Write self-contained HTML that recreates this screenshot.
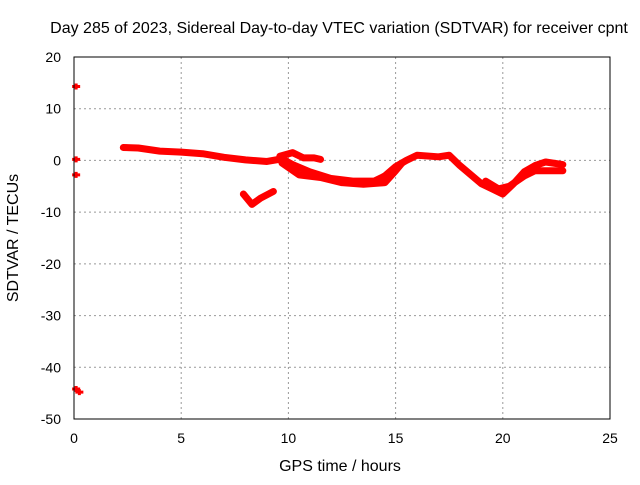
<!DOCTYPE html>
<html><head><meta charset="utf-8"><style>
body{margin:0;background:#fff}
svg text{font-family:"Liberation Sans",sans-serif;font-size:14px;fill:#000}
svg text.big{font-size:16px}
</style></head><body>
<svg width="640" height="480" id="c">
<text class="big" x="339" y="33" text-anchor="middle">Day 285 of 2023, Sidereal Day-to-day VTEC variation (SDTVAR) for receiver cpnt</text>
<text class="big" x="340" y="471" text-anchor="middle">GPS time / hours</text>
<text class="big" transform="translate(18,238) rotate(-90)" text-anchor="middle">SDTVAR / TECUs</text>
<g id="grid"></g><g id="ticks"></g><g id="data"></g>
<rect x="74" y="57" width="536" height="362" fill="none" stroke="#000"/>
</svg>
<script>
const xTicks=[0,5,10,15,20,25];
const yTicks=[20,10,0,-10,-20,-30,-40,-50];
const trackMain=[[2.3,2.5],[3,2.4],[4,1.8],[5,1.6],[6,1.3],[7,0.6],[8,0.1],[9,-0.2],[9.7,0.3],[10.2,-0.8],[11,-2.2],[12,-3.5],[13,-4],[14,-4],[14.5,-3],[15,-1.2],[15.5,0],[16,1],[17,0.7],[17.5,1],[18,-1],[19,-4.5],[19.5,-5.5],[20,-6.5],[20.5,-4.5],[21,-2.2],[21.5,-1],[22,-0.3],[22.8,-0.8]];
const trackUpper=[[9.6,0.8],[10.2,1.5],[10.7,0.5],[11.2,0.5],[11.5,0.2]];
const trackLower=[[9.7,-0.5],[10.5,-2.8],[11.5,-3.3],[12.5,-4.3],[13.5,-4.6],[14.5,-4.3],[15,-2],[15.3,-0.5]];
const trackLate=[[19.2,-4],[19.8,-5.5],[20.3,-5],[21,-3],[21.5,-2],[22.8,-2]];
const arc=[[7.9,-6.5],[8.3,-8.5],[8.7,-7.3],[9.3,-6]];
const isolated=[[0.1,14.3],[0.1,0.2],[0.1,-2.8],[0.1,-44.2],[0.25,-44.8]];
const X=v=>74+v*536/25, Y=v=>57+(20-v)*362/70;
const ns="http://www.w3.org/2000/svg";
function mk(t,a,p){const e=document.createElementNS(ns,t);for(const k in a)e.setAttribute(k,a[k]);document.getElementById(p).appendChild(e);return e;}
xTicks.forEach(v=>{
 if(v>0&&v<25){const g=mk('line',{x1:X(v),x2:X(v),y1:57,y2:419,stroke:'#999','stroke-dasharray':'2,3'},'grid');
 
 }
 const t=mk('text',{x:X(v),y:443,'text-anchor':'middle'},'ticks');t.textContent=v;
 
 
});
yTicks.forEach(v=>{
 if(v<20&&v>-50){const g=mk('line',{x1:74,x2:610,y1:Y(v),y2:Y(v),stroke:'#999','stroke-dasharray':'2,3'},'grid');
 
 }
 const t=mk('text',{x:61,y:Y(v)+5,'text-anchor':'end'},'ticks');t.textContent=v;
 
 
});
[[trackMain,'track-main'],[trackUpper,'track-upper'],[trackLower,'track-lower'],[trackLate,'track-late'],[arc,'track-arc']].forEach(([d,n])=>{
 const p=mk('polyline',{points:d.map(q=>X(q[0])+','+Y(q[1])).join(' '),fill:'none',stroke:'#f00','stroke-width':7,'stroke-linejoin':'round','stroke-linecap':'round'},'data');
 
 
});
isolated.forEach(q=>{
 const p=mk('path',{d:`M${X(q[0])-4},${Y(q[1])}h8M${X(q[0])},${Y(q[1])-3}v6`,stroke:'#f00','stroke-width':3},'data');
 
 
});
</script>
</body></html>
